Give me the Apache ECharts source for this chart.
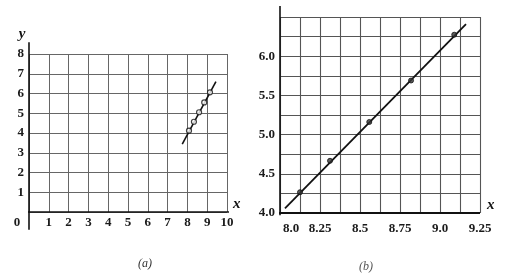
<!DOCTYPE html>
<html>
<head>
<meta charset="utf-8">
<script src="https://cdn.jsdelivr.net/npm/echarts@6/dist/echarts.min.js"></script>
<style>html,body{margin:0;padding:0;background:#fff;}#c{width:511px;height:277px;}</style>
</head>
<body>
<div id="c"></div>
<script>
// ---- Panel (a) data ----
const xTickValuesA = [0,1,2,3,4,5,6,7,8,9,10];
const xTickTextA   = ['0','1','2','3','4','5','6','7','8','9','10'];
const yTickValuesA = [1,2,3,4,5,6,7,8];
const yTickTextA   = ['1','2','3','4','5','6','7','8'];
const pointsA = [[8.08,4.12],[8.33,4.57],[8.59,5.05],[8.85,5.55],[9.14,6.06]];
const fitLineA = [[7.74,3.44],[9.44,6.6]];
const xAxisExtentA = [[-0.6,0],[10.3,0]];
const yAxisExtentA = [[0,-0.9],[0,8.6]];

// ---- Panel (b) data ----
const xTickValuesB = [8.0,8.25,8.5,8.75,9.0,9.25];
const xTickTextB   = ['8.0','8.25','8.5','8.75','9.0','9.25'];
const yTickValuesB = [4.0,4.5,5.0,5.5,6.0];
const yTickTextB   = ['4.0','4.5','5.0','5.5','6.0'];
const pointsB = [[8.125,4.265],[8.3125,4.666],[8.558,5.161],[8.819,5.69],[9.089,6.274]];
const fitLineB = [[8.031,4.06],[9.1625,6.41]];
const xAxisExtentB = [[7.99,4.0],[9.25,4.0]];
const yAxisExtentB = [[8.0,3.97],[8.0,6.64]];

const captions = ['(a)','(b)'];

function lookup(vals, texts, v){
  for (let i=0;i<vals.length;i++){ if (Math.abs(vals[i]-v)<1e-6) return texts[i]; }
  return '';
}
const FONT = 'Liberation Serif';
const lblStyle = {fontFamily:FONT, fontSize:13, fontWeight:'bold', color:'#1a1a1a'};

const chart = echarts.init(document.getElementById('c'), null, {renderer:'canvas'});
const axisLineSeries = (data, xi, yi, w) => ({
  type:'line', xAxisIndex:xi, yAxisIndex:yi, data:data, symbol:'none', clip:false, silent:true,
  lineStyle:{color:'#111', width:w}, z:5
});
chart.setOption({
  animation:false,
  backgroundColor:'#fff',
  title:[
    {text:captions[0], left:133, top:253, textStyle:{fontFamily:FONT, fontStyle:'italic', fontWeight:'normal', fontSize:12, color:'#333'}},
    {text:captions[1], left:354, top:256, textStyle:{fontFamily:FONT, fontStyle:'italic', fontWeight:'normal', fontSize:12, color:'#555'}}
  ],
  grid:[
    {left:29, top:54, width:198, height:158},
    {left:280, top:17, width:200, height:196}
  ],
  xAxis:[
    {type:'value', gridIndex:0, min:0, max:10, interval:1,
     axisLine:{show:false}, axisTick:{show:false},
     splitLine:{show:true, lineStyle:{color:'#666', width:1}},
     name:'x', nameLocation:'end', nameGap:6,
     nameTextStyle:{fontFamily:FONT, fontStyle:'italic', fontWeight:'bold', fontSize:15, color:'#111', align:'left', verticalAlign:'bottom'},
     axisLabel:Object.assign({}, lblStyle, {margin:4,
       formatter:v => { const t = lookup(xTickValuesA, xTickTextA, v); return v===0 ? '{z|'+t+'}' : t; },
       rich:{z:{fontFamily:FONT, fontSize:13, fontWeight:'bold', color:'#1a1a1a', padding:[0,24,0,0]}}})
    },
    {type:'value', gridIndex:1, min:8.0, max:9.25, interval:0.125,
     axisLine:{show:false}, axisTick:{show:false},
     splitLine:{show:true, lineStyle:{color:'#555', width:1.1}},
     name:'x', nameLocation:'end', nameGap:7,
     nameTextStyle:{fontFamily:FONT, fontStyle:'italic', fontWeight:'bold', fontSize:15, color:'#111', align:'left', verticalAlign:'bottom'},
     axisLabel:Object.assign({}, lblStyle, {margin:9,
       formatter:v => { const t = lookup(xTickValuesB, xTickTextB, v); return (t && v===xTickValuesB[0]) ? '{z|'+t+'}' : t; },
       rich:{z:{fontFamily:FONT, fontSize:13, fontWeight:'bold', color:'#1a1a1a', padding:[0,0,0,22]}}})
    }
  ],
  yAxis:[
    {type:'value', gridIndex:0, min:0, max:8, interval:1,
     axisLine:{show:false}, axisTick:{show:false},
     splitLine:{show:true, lineStyle:{color:'#666', width:1}},
     name:'y', nameLocation:'end', nameGap:12,
     nameTextStyle:{fontFamily:FONT, fontStyle:'italic', fontWeight:'bold', fontSize:15, color:'#111', padding:[0,14,0,0]},
     axisLabel:Object.assign({}, lblStyle, {margin:5,
       formatter:v => lookup(yTickValuesA, yTickTextA, v)})
    },
    {type:'value', gridIndex:1, min:4.0, max:6.5, interval:0.25,
     axisLine:{show:false}, axisTick:{show:false},
     splitLine:{show:true, lineStyle:{color:'#555', width:1.1}},
     axisLabel:Object.assign({}, lblStyle, {margin:5,
       formatter:v => lookup(yTickValuesB, yTickTextB, v)})
    }
  ],
  series:[
    axisLineSeries(xAxisExtentA,0,0,1.6),
    axisLineSeries(yAxisExtentA,0,0,1.6),
    {type:'line', xAxisIndex:0, yAxisIndex:0, data:fitLineA, symbol:'none', clip:false,
     lineStyle:{color:'#111', width:1.6}, z:6},
    {type:'scatter', xAxisIndex:0, yAxisIndex:0, data:pointsA, symbol:'circle', symbolSize:5, clip:false,
     itemStyle:{color:'#fff', borderColor:'#111', borderWidth:1.2}, z:7},
    axisLineSeries(xAxisExtentB,1,1,1.8),
    axisLineSeries(yAxisExtentB,1,1,1.6),
    {type:'line', xAxisIndex:1, yAxisIndex:1, data:fitLineB, symbol:'none', clip:false,
     lineStyle:{color:'#111', width:1.8}, z:6},
    {type:'scatter', xAxisIndex:1, yAxisIndex:1, data:pointsB, symbol:'circle', symbolSize:5, clip:false,
     itemStyle:{color:'#333', borderColor:'#111', borderWidth:1}, z:7}
  ]
});
</script>
</body>
</html>
